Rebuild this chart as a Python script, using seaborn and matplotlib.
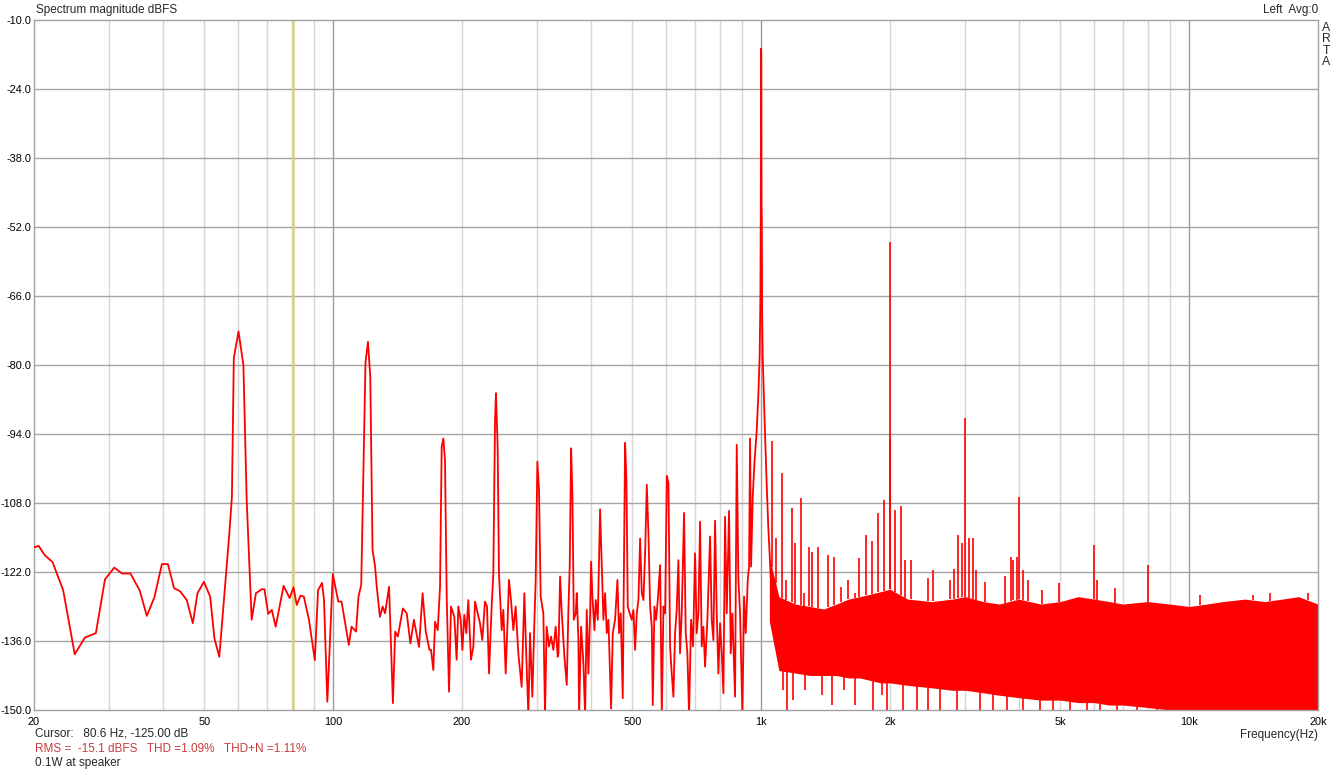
import numpy as np
import seaborn as sns
import matplotlib.pyplot as plt

# ---- values (Hz, dBFS) ----
# single trace below ~1 kHz
low_hz = [20.0, 20.5, 21.2, 22.1, 23.4, 24.9, 26.3, 27.9, 29.3, 30.8,
          32.1, 33.6, 35.3, 36.7, 38.2, 39.8, 41.1, 42.5, 43.9, 45.5,
          47.0, 48.2, 49.9, 51.6, 52.8, 54.2, 57.2, 58.0, 58.6, 60.1,
          61.7, 62.8, 64.5, 66.0, 68.1, 69.1, 70.5, 71.9, 73.4, 76.6,
          79.1, 80.8, 82.2, 83.9, 85.4, 87.8, 90.6, 92.2, 94.2, 95.2,
          96.9, 98.4, 99.8, 102.8, 104.6, 108.8, 110.4, 113.1, 114.6, 116.3,
          119.0, 120.6, 122.1, 123.6, 125.3, 126.3, 128.6, 130.5, 132.2, 135.1,
          137.9, 139.6, 141.6, 145.5, 148.6, 151.5, 154.4, 158.7, 161.8, 164.6,
          167.9]
low_db = [-117.0, -116.7, -118.6, -120.0, -125.7, -138.7, -135.3, -134.4, -123.5, -121.1,
          -122.3, -122.3, -125.7, -130.9, -127.2, -120.4, -120.4, -125.3, -125.9, -127.7,
          -132.4, -126.3, -124.0, -127.0, -135.5, -139.2, -114.2, -106.7, -78.6, -73.2,
          -80.0, -107.4, -131.7, -126.3, -125.5, -125.5, -130.5, -129.7, -133.1, -124.8,
          -127.3, -125.1, -128.7, -126.8, -127.0, -131.7, -139.9, -125.7, -124.2, -127.7,
          -148.3, -135.1, -122.4, -128.0, -128.0, -136.8, -133.1, -134.1, -127.0, -124.6,
          -79.5, -75.3, -82.4, -117.5, -120.9, -124.6, -131.1, -129.0, -130.4, -125.0,
          -148.6, -134.1, -135.1, -129.4, -130.4, -136.5, -131.7, -137.2, -126.3, -134.1,
          -137.8]

mid1_hz = [169.3, 171.4, 173.0, 175.5, 177.7, 179.3, 180.9, 182.5, 184.2, 186.5,
           188.5, 191.9, 194.3, 196.1, 198.6, 200.4, 202.5, 204.7, 206.9, 209.9,
           212.6, 214.5, 217.6, 220.3, 223.1, 226.3, 228.8, 231.3, 234.6, 236.7,
           238.9, 240.1, 242.3, 244.0, 247.6, 249.8, 253.0, 255.7, 257.5, 260.3,
           263.6, 266.9, 270.8, 275.7, 279.7, 283.2, 285.8, 288.4, 292.0, 295.2,
           297.3, 300.0, 302.7, 305.4, 309.8, 312.6, 315.4, 319.4, 322.9, 326.9,
           331.1, 334.7]
mid1_db = [-137.8, -141.9, -132.1, -133.8, -125.0, -96.6, -94.9, -99.3, -127.0, -146.3,
           -129.0, -131.1, -139.8, -129.0, -131.7, -137.8, -130.7, -134.4, -127.7, -139.8,
           -137.1, -128.0, -130.4, -132.4, -135.8, -128.0, -129.0, -142.6, -129.0, -122.3,
           -91.2, -85.7, -96.6, -122.3, -133.8, -129.7, -142.6, -131.7, -123.6, -127.7,
           -133.8, -129.0, -138.5, -145.3, -126.3, -141.2, -151.0, -134.4, -147.3, -132.1,
           -123.6, -99.6, -105.4, -127.0, -130.4, -151.0, -133.1, -137.1, -135.1, -137.8,
           -133.1, -139.2]

mid2_hz = [336.0, 339.0, 342.1, 347.0, 351.4, 354.5, 357.1, 359.7, 362.2, 364.9,
           368.8, 370.8, 374.1, 375.5, 379.5, 384.3, 387.8, 391.3, 394.8, 398.4,
           400.5, 403.4, 407.8, 410.7, 415.2, 420.4, 424.2, 428.0, 431.9, 435.8,
           439.7, 446.0, 450.1, 455.7, 461.5, 465.6, 469.8, 474.9, 478.3, 480.9,
           484.4, 487.9, 493.2, 498.5, 503.0, 507.5, 512.1, 516.7, 521.4, 526.1,
           530.8, 535.6, 540.5, 545.3, 550.2, 555.2, 558.2, 563.2, 568.3, 573.4,
           580.7, 585.9, 591.2, 596.5, 601.9, 607.3]
mid2_db = [-138.5, -122.9, -130.4, -139.2, -144.9, -129.7, -120.6, -96.9, -106.0, -131.7,
           -130.4, -126.3, -135.8, -151.0, -133.1, -140.5, -151.0, -129.7, -142.6, -130.4,
           -119.9, -127.0, -133.8, -127.7, -131.7, -109.3, -120.9, -131.7, -126.3, -134.4,
           -131.7, -149.7, -134.4, -131.7, -123.6, -134.4, -130.4, -147.6, -118.2, -95.8,
           -103.3, -129.0, -130.4, -131.7, -129.7, -137.8, -130.4, -127.7, -115.2, -126.3,
           -127.7, -118.2, -104.3, -114.2, -129.0, -133.1, -149.0, -129.0, -131.7, -127.7,
           -120.6, -151.0, -129.0, -130.4, -102.5, -104.0]

mid3_hz = [612.6, 618.1, 623.7, 629.3, 634.9, 640.6, 646.4, 652.2, 660.5, 666.4,
           672.4, 678.5, 685.8, 693.2, 700.7, 707.0, 713.4, 719.9, 726.3, 732.9,
           739.5, 748.8, 759.7, 766.5, 773.4, 780.4, 787.4, 794.5, 801.7, 808.9,
           816.2, 823.5, 830.9, 841.4, 849.0, 856.6, 869.0, 876.9, 884.8, 892.7,
           904.0, 912.2, 920.4, 930.4, 937.0, 942.1, 947.2, 955.7, 964.4, 976.6,
           985.4]
mid3_db = [-137.1, -142.6, -147.3, -134.4, -129.7, -119.6, -138.5, -130.4, -110.0, -134.4,
           -138.5, -151.0, -131.7, -137.1, -118.2, -134.4, -130.4, -111.8, -137.1, -133.1,
           -141.2, -131.7, -114.8, -131.7, -135.8, -111.6, -130.4, -142.6, -132.4, -138.5,
           -146.6, -110.8, -130.4, -109.6, -138.5, -130.4, -147.3, -96.2, -123.6, -130.4,
           -151.0, -127.0, -134.4, -123.6, -120.9, -94.9, -120.9, -106.7, -99.9, -93.2,
           -85.7]

# the 1 kHz test tone
tone_hz = [992, 996, 998, 999.5, 1000.5, 1002, 1003.5, 1005, 1008, 1012, 1021, 1030, 1039, 1054]
tone_db = [-78, -66, -48, -15.8, -17, -46.9, -50.6, -68, -78, -83.0, -93.9, -104, -112.8, -123.6]

# dense noise band above ~1 kHz: top and bottom of the red area
band_hz = [1045, 1100, 1200, 1300, 1400, 1500, 1600, 1700, 1800, 1900,
           2000, 2200, 2500, 2800, 3000, 3300, 3600, 4000, 4500, 5000,
           5500, 6000, 6500, 7000, 8000, 9000, 10000, 11000, 12000, 13500,
           15000, 16500, 18000, 20000]
band_top = [-119.0, -127.0, -128.5, -129.0, -129.5, -128.5, -127.5, -127.0, -126.5, -126.0,
            -125.5, -127.5, -128.0, -127.5, -127.0, -128.0, -128.5, -127.5, -128.5, -128.0,
            -127.0, -127.5, -128.0, -128.5, -128.0, -128.5, -129.0, -128.5, -128.0, -127.5,
            -128.0, -127.5, -127.0, -128.5]
band_bottom = [-132.0, -142.0, -142.5, -143.0, -143.0, -143.0, -143.5, -143.5, -144.0, -144.5,
               -144.5, -145.0, -145.5, -146.0, -146.0, -146.5, -147.0, -147.5, -148.0, -148.0,
               -148.5, -148.5, -149.0, -149.0, -149.5, -150.0, -150.0, -150.0, -150.0, -150.0,
               -150.0, -150.0, -150.0, -150.0]

# harmonics / spurs sticking out of the band
spike_hz = [1058, 1081, 1117, 1141, 1178, 1200, 1239, 1262, 1294, 1317,
            1360, 1430, 1477, 1537, 1599, 1657, 1696, 1758, 1820, 1880,
            1935, 1996, 2000, 2055, 2122, 2168, 2240, 2459, 2517, 2762,
            2822, 2879, 2941, 2998, 3067, 3122, 3179, 3337, 3715, 3830,
            3886, 3956, 4003, 4100, 4212, 4523, 4973, 6003, 6080, 6719,
            7998, 10600, 14100, 15450, 19000]
spike_db = [-95.5, -115.2, -102.0, -123.6, -109.1, -116.2, -107.0, -126.3, -116.9, -117.9,
            -116.9, -118.5, -118.9, -125.0, -123.6, -126.3, -119.2, -114.5, -115.8, -110.1,
            -107.4, -95.0, -55.0, -109.4, -108.7, -119.6, -119.6, -123.3, -121.6, -123.6,
            -121.3, -114.5, -116.2, -90.8, -115.2, -115.2, -121.6, -124.0, -122.9, -118.9,
            -119.6, -118.9, -106.8, -121.6, -123.6, -125.6, -124.3, -116.5, -123.6, -125.3,
            -120.6, -126.7, -126.7, -126.3, -126.2]

# deep notches below the band
dip_hz = [1127, 1147, 1189, 1266, 1385, 1462, 1565, 1657, 1829, 1914, 1967,
          2149, 2309, 2459, 2618, 2863, 3247, 3488, 3747, 4099, 4483,
          4817, 5269, 5763, 6191, 6772, 7543, 8399]
dip_db = [-146.0, -151.0, -148.0, -146.0, -147.0, -149.0, -146.0, -149.0, -151.0, -147.0, -151.0,
          -151.0, -151.0, -150.0, -151.0, -151.0, -151.0, -150.0, -151.0, -151.0, -151.0,
          -151.0, -151.0, -151.0, -151.0, -151.0, -151.0, -151.0]

x_ticks = [20, 50, 100, 200, 500, 1000, 2000, 5000, 10000, 20000]
x_labels = ['20', '50', '100', '200', '500', '1k', '2k', '5k', '10k', '20k']
y_ticks = [-150, -136, -122, -108, -94, -80, -66, -52, -38, -24, -10]

RED = '#ff0000'

sns.set_theme(style='white')
plt.rcParams['font.family'] = ['Liberation Sans', 'DejaVu Sans']

fig = plt.figure(figsize=(13.43, 7.7), dpi=100)
ax = fig.add_axes([34 / 1343, 60 / 770, 1284 / 1343, 690 / 770])
ax.set_xscale('log')
ax.set_xlim(20, 20000)
ax.set_ylim(-150, -10)

# grid like ARTA: light minor verticals, darker decades and horizontals
for dec in [10, 100, 1000]:
    for k in range(2, 10):
        f = dec * k
        if 20 < f < 20000:
            ax.axvline(f, color='#d6d6d6', lw=1, zorder=0)
for f in [100, 1000, 10000]:
    ax.axvline(f, color='#9c9c9c', lw=1, zorder=0)
for y in y_ticks[1:-1]:
    ax.axhline(y, color='#a4a4a4', lw=1, zorder=0)

# cursor
ax.axvline(80.6, color='#d8d27a', lw=1.8, zorder=1)

# noise band, spurs and notches
ax.fill_between(band_hz, band_bottom, band_top, color=RED, lw=0, zorder=2)
top_at_spike = np.interp(np.log10(spike_hz), np.log10(band_hz), band_top)
ax.vlines(spike_hz, top_at_spike, spike_db, color=RED, lw=1.2, zorder=2)
bot_at_dip = np.interp(np.log10(dip_hz), np.log10(band_hz), band_bottom)
ax.vlines(dip_hz, dip_db, bot_at_dip, color=RED, lw=1.2, zorder=2)

trace_hz = low_hz + mid1_hz + mid2_hz + mid3_hz + tone_hz
trace_db = low_db + mid1_db + mid2_db + mid3_db + tone_db
sns.lineplot(x=trace_hz, y=trace_db, ax=ax, color=RED, lw=1.3,
             estimator=None, sort=False, zorder=3)

ax.set_xticks(x_ticks)
ax.set_xticklabels(x_labels)
ax.xaxis.set_minor_locator(plt.NullLocator())
ax.set_yticks(y_ticks)
ax.set_yticklabels(['%.1f' % v for v in y_ticks])
ax.tick_params(axis='both', length=0, labelsize=7.9, colors='black')
ax.tick_params(axis='y', pad=2)
ax.tick_params(axis='x', pad=5)
ax.set_xlabel('')
ax.set_ylabel('')
for sp in ax.spines.values():
    sp.set_color('#a0a0a0')
    sp.set_linewidth(1)

def px(x, y):
    return x / 1343, 1 - y / 770

fs = 8.5
fig.text(*px(36, 10), 'Spectrum magnitude dBFS', ha='left', va='center', fontsize=fs)
fig.text(*px(1318, 10), 'Left  Avg:0', ha='right', va='center', fontsize=fs)
for i, ch in enumerate('ARTA'):
    fig.text(*px(1326, 28 + i * 11.4), ch, ha='center', va='center', fontsize=fs + 0.3)
fig.text(*px(1318, 735), 'Frequency(Hz)', ha='right', va='center', fontsize=fs)
fig.text(*px(35, 734), 'Cursor:   80.6 Hz, -125.00 dB', ha='left', va='center', fontsize=fs)
fig.text(*px(35, 749), 'RMS =  -15.1 dBFS   THD =1.09%   THD+N =1.11%',
         ha='left', va='center', fontsize=fs, color='#c83c3c')
fig.text(*px(35, 763), '0.1W at speaker', ha='left', va='center', fontsize=fs)

fig.savefig('out.png', dpi=100, facecolor='white')
plt.close(fig)
